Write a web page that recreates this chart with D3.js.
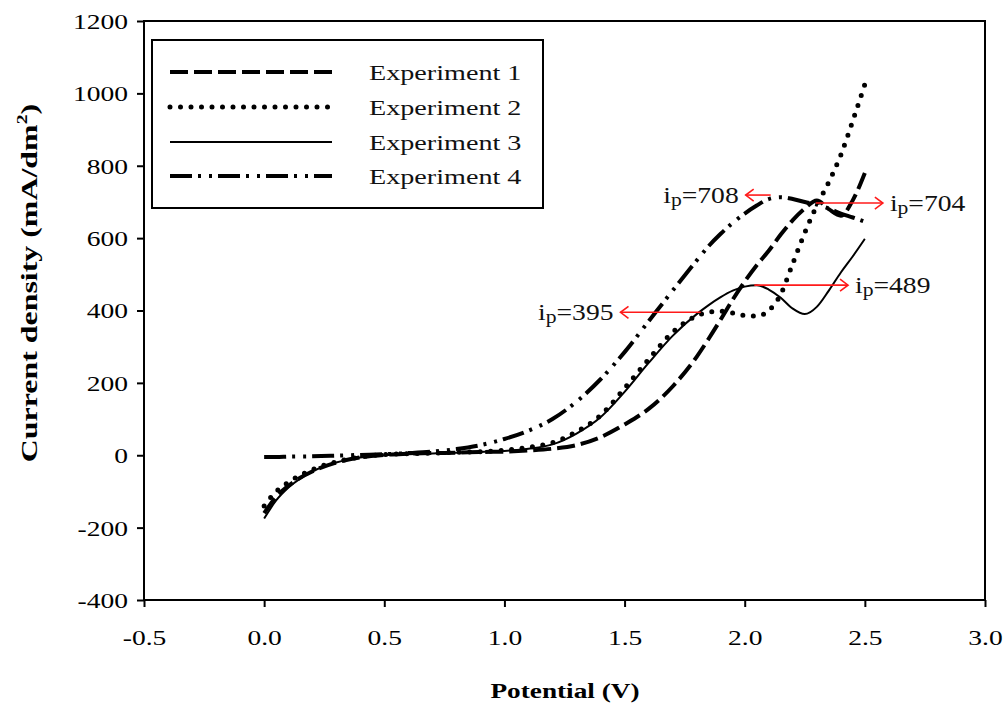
<!DOCTYPE html>
<html><head><meta charset="utf-8">
<script src="https://cdn.jsdelivr.net/npm/d3@7"></script>
<style>body{margin:0;background:#fff}svg{display:block}</style>
</head><body>
<svg id="chart" width="1006" height="706"></svg>
<script>
// ---- data ----
const potential = [0, 0.05, 0.1, 0.2, 0.3, 0.4, 0.5, 0.6, 0.7, 0.8, 0.9, 1.0, 1.1, 1.2, 1.3, 1.4, 1.5, 1.6, 1.7, 1.8, 1.85, 1.9, 1.95, 2.0, 2.05, 2.1, 2.15, 2.2, 2.25, 2.3, 2.35, 2.4, 2.45, 2.5];
const exp1 = [-160, -115, -85, -45, -20, -6, 1, 4, 6, 7, 9, 10, 13, 18, 28, 50, 85, 128, 190, 272, 322, 375, 430, 480, 525, 565, 610, 650, 682, 704, 680, 662, 705, 780];
const exp2 = [-140, -100, -75, -40, -18, -5, 2, 4, 6, 8, 10, 14, 22, 35, 65, 110, 185, 265, 340, 385, 395, 398, 393, 386, 385, 400, 445, 530, 615, 690, 755, 830, 925, 1025];
const exp3 = [-175, -125, -90, -45, -20, -6, 0, 3, 5, 7, 9, 12, 18, 30, 60, 105, 175, 255, 330, 390, 415, 437, 455, 466, 470, 458, 435, 405, 390, 410, 455, 505, 550, 598];
const exp4 = [-5, -5, -4, -3, -1, 1, 3, 6, 10, 17, 28, 45, 68, 100, 148, 210, 285, 370, 455, 538, 578, 612, 642, 668, 690, 708, 713, 708, 700, 693, 682, 668, 657, 645];
const seriesNames = ["Experiment 1", "Experiment 2", "Experiment 3", "Experiment 4"];
const xTicks = [-0.5, 0.0, 0.5, 1.0, 1.5, 2.0, 2.5, 3.0];
const yTicks = [-400, -200, 0, 200, 400, 600, 800, 1000, 1200];
// annotations: label value, arrow start (V, I), arrow end (V, I)
const annLabels = ["708", "704", "489", "395"];
const annFromV = [2.108, 2.296, 2.04, 1.817];
const annToV   = [2.004, 2.575, 2.43, 1.483];
const annI     = [719, 697, 470, 395];

// ---- layout ----
const svg = d3.select("#chart");
const L = 144, R = 985, T = 21, B = 600;
const x = d3.scaleLinear().domain([-0.5, 3.0]).range([L, R]);
const y = d3.scaleLinear().domain([-400, 1200]).range([B, T]);
const SX = 1.28;
const serif = "'Liberation Serif','Times New Roman',serif";

function stretchText(sel, px, py, s) {
  sel.attr("transform", `translate(${px},${py}) scale(${s || SX},1)`).attr("x", 0).attr("y", 0);
}

// frame
svg.append("rect").attr("x", L).attr("y", T).attr("width", R - L).attr("height", B - T)
  .attr("fill", "none").attr("stroke", "#000").attr("stroke-width", 2);

// axes
const yAxis = svg.append("g").attr("transform", `translate(${L},0)`)
  .call(d3.axisLeft(y).tickValues(yTicks).tickSize(7).tickFormat(d => String(d)));
const xAxis = svg.append("g").attr("transform", `translate(0,${B})`)
  .call(d3.axisBottom(x).tickValues(xTicks).tickSize(7).tickFormat(d => d.toFixed(1)));
[yAxis, xAxis].forEach(g => {
  g.select(".domain").remove();
  g.selectAll(".tick line").attr("stroke", "#000").attr("stroke-width", 2);
  g.selectAll("text").attr("font-family", serif).attr("font-size", 21.5).attr("fill", "#000");
});
yAxis.selectAll(".tick text").each(function () {
  d3.select(this).attr("dy", null).attr("text-anchor", "end").attr("dominant-baseline", "central");
  stretchText(d3.select(this), -16, 0);
});
xAxis.selectAll(".tick text").each(function () {
  d3.select(this).attr("dy", null).attr("text-anchor", "middle");
  stretchText(d3.select(this), 0, 45);
});

// axis titles
const xt = svg.append("text").attr("font-family", serif).attr("font-size", 22).attr("font-weight", "bold")
  .attr("text-anchor", "middle").text("Potential (V)");
stretchText(xt, 565, 698, 1.24);
const yt = svg.append("text").attr("font-family", serif).attr("font-size", 24).attr("font-weight", "bold")
  .attr("text-anchor", "middle")
  .attr("transform", `translate(37,283) rotate(-90) scale(1.33,1)`);
yt.append("tspan").text("Current density (mA/dm");
yt.append("tspan").attr("font-size", 15).attr("dy", -10).text("2");
yt.append("tspan").attr("dy", 10).text(")");

// series
const styles = [
  { dash: "18,6", width: 4, cap: "butt" },
  { dash: "0,10.5", width: 5, cap: "round" },
  { dash: null, width: 2, cap: "butt" },
  { dash: "22,6,3,8,3,6", width: 4, cap: "butt" }
];
const allSeries = [exp1, exp2, exp3, exp4];
const line = d3.line().x(d => x(d[0])).y(d => y(d[1])).curve(d3.curveMonotoneX);
allSeries.forEach((vals, i) => {
  const pts = potential.map((v, k) => [v, vals[k]]);
  svg.append("path").datum(pts).attr("d", line).attr("fill", "none")
    .attr("stroke", "#000").attr("stroke-width", styles[i].width)
    .attr("stroke-linecap", styles[i].cap)
    .attr("stroke-dasharray", styles[i].dash);
});

// annotations
annLabels.forEach((lab, i) => {
  const x0 = x(annFromV[i]), x1 = x(annToV[i]), yy = y(annI[i]);
  const dir = x1 > x0 ? 1 : -1;
  svg.append("line").attr("x1", x0).attr("x2", x1).attr("y1", yy).attr("y2", yy)
    .attr("stroke", "#ff1a1a").attr("stroke-width", 1.6);
  svg.append("path").attr("d", `M${x1 - dir * 8},${yy - 6} L${x1},${yy} L${x1 - dir * 8},${yy + 6}`)
    .attr("fill", "none").attr("stroke", "#ff1a1a").attr("stroke-width", 1.6);
  const t = svg.append("text").attr("font-family", serif).attr("font-size", 23).attr("fill", "#111")
    .attr("text-anchor", dir > 0 ? "start" : "end");
  t.append("tspan").text("i");
  t.append("tspan").attr("font-size", 18).attr("dy", 3).text("p");
  t.append("tspan").attr("dy", -3).text("=" + lab);
  stretchText(t, x1 + dir * 7, yy + 8, 1.2);
});

// legend
const lg = svg.append("g");
lg.append("rect").attr("x", 152).attr("y", 40).attr("width", 391).attr("height", 168)
  .attr("fill", "#fff").attr("stroke", "#000").attr("stroke-width", 2);
const rowY = [72, 107, 142, 176];
seriesNames.forEach((name, i) => {
  lg.append("line").attr("x1", 170).attr("x2", 332).attr("y1", rowY[i]).attr("y2", rowY[i])
    .attr("stroke", "#000").attr("stroke-width", styles[i].width)
    .attr("stroke-linecap", styles[i].cap).attr("stroke-dasharray", styles[i].dash);
  const t = lg.append("text").attr("font-family", serif).attr("font-size", 22).attr("fill", "#111")
    .attr("dominant-baseline", "central").text(name);
  stretchText(t, 369, rowY[i]);
});
</script>
</body></html>
